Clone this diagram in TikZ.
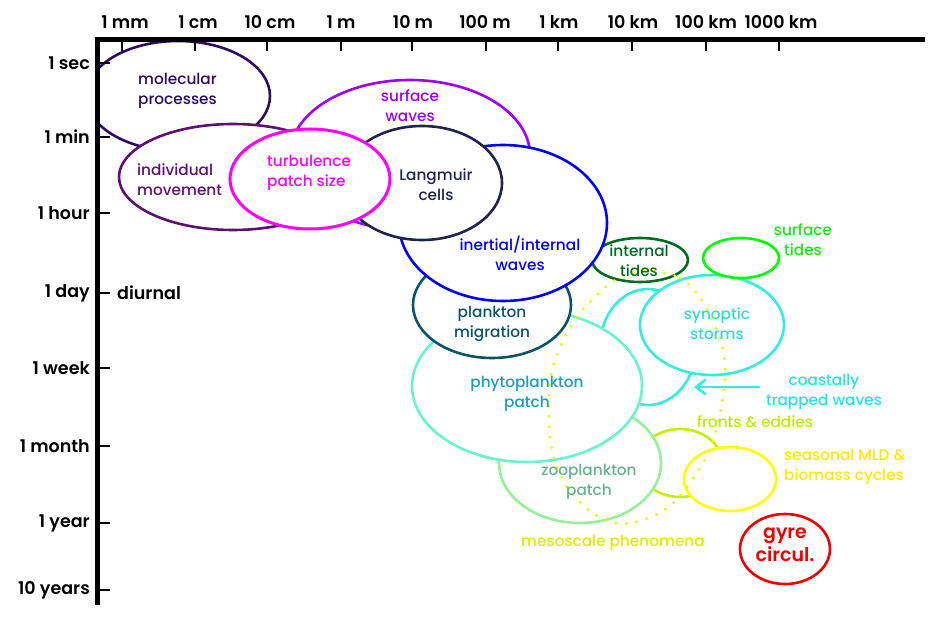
\documentclass[tikz,border=0pt]{standalone}
\usepackage{fontspec}
\setmainfont{Poppins}
\IfFontExistsTF{Poppins Medium}{\newfontfamily\medfont{Poppins Medium}}{\newfontfamily\medfont{Poppins}}
\IfFontExistsTF{Poppins SemiBold}{\newfontfamily\semifont{Poppins SemiBold}}{\newcommand\semifont{\bfseries}}
\usetikzlibrary{shapes.geometric,arrows.meta}
\definecolor{cMol}{HTML}{2C0C5E}
\definecolor{cInd}{HTML}{5E1070}
\definecolor{cTurb}{HTML}{FF00FF}
\definecolor{cSurf}{HTML}{9A00FF}
\definecolor{cLang}{HTML}{22224E}
\definecolor{cIner}{HTML}{0000FF}
\definecolor{cITide}{HTML}{006A20}
\definecolor{cSTide}{HTML}{00FF00}
\definecolor{cSTideT}{HTML}{11EE11}
\definecolor{cPlank}{HTML}{0B5366}
\definecolor{cPhyto}{HTML}{66F5CF}
\definecolor{cPhytoT}{HTML}{1AA0B4}
\definecolor{cCyan}{HTML}{33EEDD}
\definecolor{cSynT}{HTML}{33DDCC}
\definecolor{cCoastT}{HTML}{22E5E5}
\definecolor{cZoo}{HTML}{99EE99}
\definecolor{cZooT}{HTML}{66B38F}
\definecolor{cFront}{HTML}{C4F000}
\definecolor{cFrontT}{HTML}{BBEE00}
\definecolor{cSeas}{HTML}{FFFF00}
\definecolor{cSeasT}{HTML}{FFE800}
\definecolor{cGyre}{HTML}{EE0000}
\definecolor{cDot}{HTML}{E4FF00}
\definecolor{cMesoT}{HTML}{DDEE00}
\begin{document}
\begin{tikzpicture}[x=1pt,y=-1pt,
  blob/.style={draw, ellipse, fill=white, line width=2.6pt, inner sep=0pt},
  lbl/.style={font=\medfont\fontsize{15.3}{20}\selectfont, align=center, inner sep=0pt},
  axlbl/.style={font=\semifont\fontsize{17.5}{20}\selectfont, inner sep=0pt},
  axisline/.style={line width=5pt},
  tickline/.style={line width=2.6pt}]
\useasboundingbox (0,0) rectangle (940,620);
% ellipses, back to front
\begin{scope}
\clip (97,0) rectangle (940,620);
\node[blob, draw=cMol, minimum width=184pt, minimum height=110pt] (mol) at (178,96) {};
\end{scope}
\node[blob, draw=cInd, minimum width=228pt, minimum height=106pt] (ind) at (233,177) {};
\node[blob, draw=cSurf, minimum width=240pt, minimum height=150pt] (swv) at (410,155) {};
\node[blob, draw=cFront, minimum width=84pt, minimum height=68pt] (fre) at (680,463) {};
\node[blob, draw=cSeas, minimum width=92pt, minimum height=64pt] (sea) at (730,479) {};
\node[blob, draw=cZoo, minimum width=162pt, minimum height=120pt] (zoo) at (580,463) {};
\node[blob, draw=cCyan, minimum width=96pt, minimum height=116pt] (ctw) at (648,347) {};
\node[blob, draw=cCyan, minimum width=144pt, minimum height=100pt] (syn) at (712,325) {};
\node[blob, draw=cPhyto, minimum width=230pt, minimum height=152pt] (phy) at (527,386) {};
\node[blob, draw=cPlank, minimum width=158pt, minimum height=106pt] (plm) at (492,305) {};
\node[blob, draw=cITide, minimum width=96pt, minimum height=44pt] (itd) at (640,260) {};
\node[blob, draw=cIner, minimum width=208pt, minimum height=156pt] (iiw) at (503,223) {};
\node[blob, draw=cLang, minimum width=160pt, minimum height=114pt] (lng) at (422,183) {};
\node[blob, draw=cTurb, line width=3pt, minimum width=160pt, minimum height=100pt] (tur) at (310,179) {};
\node[blob, draw=cSTide, minimum width=76pt, minimum height=40pt] (std) at (741,258) {};
\node[blob, draw=cGyre, minimum width=90pt, minimum height=70pt] (gyr) at (785,549) {};
% mesoscale dotted outline
\draw[cDot, line width=3.2pt, line cap=round, dash pattern=on 0pt off 10.5pt]
  plot[smooth cycle, tension=0.6] coordinates {(645,271) (680,278) (703,302) (721,342) (725,380) (716,430) (703,463) (671,505) (631,523) (599,517) (567,487) (552,450) (549,410) (552,370) (570,327) (592,300) (617,279)};
% arrow
\coordinate (arrA) at (759,387);
\coordinate (arrB) at (694,387);
\draw[cCyan, line width=2.6pt, line cap=round, -{Straight Barb[length=9pt,width=14pt,line cap=round]}] (arrA) -- (arrB);
% axes
\draw[axisline] (97,37.5) -- (97,605);
\draw[axisline] (94.5,40) -- (925,40);
\foreach \x in {122,195,267,341,412,486,558,632,706,779} \draw[tickline] (\x,40) -- (\x,51);
\foreach \y in {63,137,213,293,368,446,523,590} \draw[tickline] (97,\y) -- (110,\y);
% axis labels
\node[axlbl] (xmm) at (125,22) {1 mm};
\node[axlbl] (xcm) at (198,22) {1 cm};
\node[axlbl] (xdcm) at (270,22) {10 cm};
\node[axlbl] (xm) at (341,22) {1 m};
\node[axlbl] (xdm) at (413,22) {10 m};
\node[axlbl] (xhm) at (485,22) {100 m};
\node[axlbl] (xkm) at (559,22) {1 km};
\node[axlbl] (xdkm) at (633,22) {10 km};
\node[axlbl] (xhkm) at (706,22) {100 km};
\node[axlbl] (xtkm) at (781,22) {1000 km};
\node[axlbl, anchor=east] (ysec) at (90,63) {1 sec};
\node[axlbl, anchor=east] (ymin) at (90,137) {1 min};
\node[axlbl, anchor=east] (yhour) at (90,213) {1 hour};
\node[axlbl, anchor=east] (yday) at (90,293) {1 day};
\node[axlbl, anchor=east] (yweek) at (90,368) {1 week};
\node[axlbl, anchor=east] (ymonth) at (90,446) {1 month};
\node[axlbl, anchor=east] (yyear) at (90,523) {1 year};
\node[axlbl, anchor=east] (yten) at (90,590) {10 years};
\node[axlbl, anchor=west] (diu) at (117,293) {diurnal};
% ellipse labels
\node[lbl, align=left, anchor=west, text=cMol] (tmol) at (138,91) {molecular\\processes};
\node[lbl, align=left, anchor=west, text=cInd] (tind) at (137,180) {individual\\movement};
\node[lbl, align=left, anchor=west, text=cTurb] (ttur) at (267,173) {turbulence\\patch size};
\node[lbl, text=cSurf] (tswv) at (410,106) {surface\\waves};
\node[lbl, text=cLang] (tlng) at (436,185) {Langmuir\\cells};
\node[lbl, text=cIner] (tiiw) at (520,253) {inertial/internal\\waves};
\node[lbl, text=cITide] (titd) at (639,261) {internal\\tides};
\node[lbl, text=cSTideT] (tstd) at (803,240) {surface\\tides};
\node[lbl, text=cPlank] (tplm) at (492,324) {plankton\\migration};
\node[lbl, text=cPhytoT] (tphy) at (527,394) {phytoplankton\\patch};
\node[lbl, text=cSynT] (tsyn) at (717,324) {synoptic\\storms};
\node[lbl, text=cCoastT] (tctw) at (824,392) {coastally\\trapped waves};
\node[lbl, text=cFrontT] (tfre) at (755,422) {fronts \& eddies};
\node[lbl, text=cZooT] (tzoo) at (589,482) {zooplankton\\patch};
\node[lbl, align=left, anchor=west, text=cSeasT] (tsea) at (784,467) {seasonal MLD \&\\biomass cycles};
\node[lbl, text=cMesoT] (tmes) at (613,543) {mesoscale phenomena};
\node[lbl, text=cGyre, font=\semifont\fontsize{19}{23}\selectfont] (tgyr) at (785,545) {gyre\\circul.};
\end{tikzpicture}
\end{document}
